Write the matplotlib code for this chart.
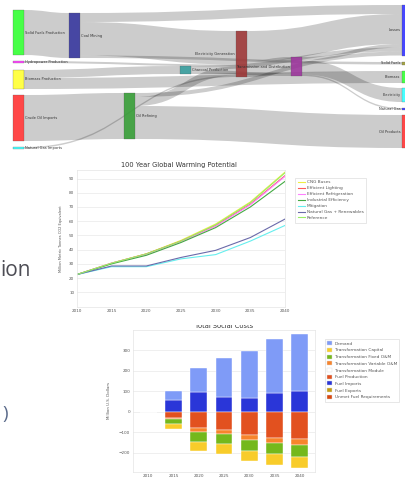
import matplotlib
matplotlib.use("Agg")
import matplotlib.pyplot as plt
from matplotlib.path import Path
from matplotlib.patches import PathPatch, Rectangle, Patch
from matplotlib.lines import Line2D

W, H = 406, 479

# ---------------- Sankey data ----------------
sankey_nodes = ["Solid Fuels Production", "Hydropower Production", "Biomass Production",
                "Crude Oil Imports", "Natural Gas Imports", "Coal Mining", "Oil Refining",
                "Charcoal Production", "Electricity Generation", "Transmission and Distribution",
                "Losses", "Solid Fuels", "Biomass", "Electricity", "Natural Gas", "Oil Products"]
link_source = ["Solid Fuels Production", "Hydropower Production", "Biomass Production",
               "Biomass Production", "Crude Oil Imports", "Natural Gas Imports",
               "Coal Mining", "Coal Mining", "Coal Mining",
               "Oil Refining", "Oil Refining", "Oil Refining",
               "Charcoal Production", "Charcoal Production", "Charcoal Production",
               "Electricity Generation", "Electricity Generation",
               "Transmission and Distribution", "Transmission and Distribution",
               "Transmission and Distribution"]
link_target = ["Coal Mining", "Electricity Generation", "Charcoal Production",
               "Biomass", "Oil Refining", "Electricity Generation",
               "Losses", "Electricity Generation", "Solid Fuels",
               "Losses", "Electricity Generation", "Oil Products",
               "Losses", "Transmission and Distribution", "Biomass",
               "Losses", "Transmission and Distribution",
               "Losses", "Electricity", "Natural Gas"]
link_value = [45, 2, 8, 11, 46, 1.5,
              9, 33.5, 2.5,
              4, 9, 33,
              4, 3, 1,
              30, 16,
              3.5, 14, 1.5]
node_colors = ["#33ff33", "#ff33ff", "#ffff33", "#ff3333", "#33ffff", "#333399", "#339933",
               "#339999", "#993333", "#993399", "#3333ff", "#999933", "#33ff33", "#33ffff",
               "#3333ff", "#ff3333"]

# ---------------- Line chart data ----------------
gwp_years = [2010, 2015, 2020, 2025, 2030, 2035, 2040]
gwp_cng_buses = [22.5, 30.5, 37.0, 46.5, 58.0, 73.5, 94.5]
gwp_eff_lighting = [22.5, 30.5, 37.0, 46.0, 57.0, 72.0, 92.0]
gwp_eff_refrig = [22.5, 30.5, 36.5, 45.5, 56.5, 71.5, 91.5]
gwp_industrial = [22.5, 30.0, 36.0, 45.0, 55.5, 70.0, 88.0]
gwp_mitigation = [22.5, 28.0, 28.0, 33.5, 36.5, 46.0, 57.0]
gwp_ng_renew = [22.5, 28.5, 28.5, 34.5, 39.5, 48.5, 61.5]
gwp_reference = [22.5, 30.5, 37.0, 46.0, 57.5, 73.0, 94.0]
gwp_labels = ["CNG Buses", "Efficient Lighting", "Efficient Refrigeration",
              "Industrial Efficiency", "Mitigation", "Natural Gas + Renewables", "Reference"]
gwp_colors = ["#eeee44", "#ff5a5a", "#ff80ff", "#44aa44", "#66eeee", "#6a6aaa", "#99ee66"]
gwp_yticks = [10, 20, 30, 40, 50, 60, 70, 80, 90]

# ---------------- Bar chart data ----------------
cost_years = ["2010", "2015", "2020", "2025", "2030", "2035", "2040"]
cost_fuel_imports = [0, 55, 95, 73, 65, 93, 101]
cost_demand = [0, 45, 116, 187, 231, 262, 278]
cost_fuel_production = [0, -32, -78, -89, -114, -127, -135]
cost_var_om = [0, -6, -19, -21, -26, -24, -27]
cost_fixed_om = [0, -22, -49, -49, -52, -57, -57]
cost_capital = [0, -23, -45, -47, -47, -52, -57]
cost_yticks = [-200, -100, 0, 100, 200, 300]
cost_labels = ["Demand", "Transformation Capital", "Transformation Fixed O&M",
               "Transformation Variable O&M", "Transformation Module", "Fuel Production",
               "Fuel Imports", "Fuel Exports", "Unmet Fuel Requirements"]
cost_colors = ["#7f9bf7", "#f8cc2a", "#74b81c", "#f7842c", "#ffffff", "#e2511f",
               "#2a36d8", "#c49c12", "#d9480f"]

fig = plt.figure(figsize=(W / 100, H / 100), dpi=100)
fig.patch.set_facecolor("white")


def fax(l, t, r, b):
    return fig.add_axes([l / W, 1 - b / H, (r - l) / W, (b - t) / H])


# ---------------- Sankey ----------------
node_left = {"Solid Fuels Production": 13, "Hydropower Production": 13, "Biomass Production": 13,
             "Crude Oil Imports": 13, "Natural Gas Imports": 13, "Coal Mining": 69,
             "Oil Refining": 124, "Charcoal Production": 180, "Electricity Generation": 236,
             "Transmission and Distribution": 291, "Losses": 402, "Solid Fuels": 402,
             "Biomass": 402, "Electricity": 402, "Natural Gas": 402, "Oil Products": 402}
node_top = {"Solid Fuels Production": 10, "Hydropower Production": 61, "Biomass Production": 70,
            "Crude Oil Imports": 95, "Natural Gas Imports": 147, "Coal Mining": 13,
            "Oil Refining": 93, "Charcoal Production": 66, "Electricity Generation": 31,
            "Transmission and Distribution": 57, "Losses": 5, "Solid Fuels": 62,
            "Biomass": 71, "Electricity": 88, "Natural Gas": 108, "Oil Products": 115}
NW = 11

sax = fax(0, 0, W, 155)
sax.set_xlim(0, W)
sax.set_ylim(155, 0)
sax.axis("off")

n_in = {n: 0.0 for n in sankey_nodes}
n_out = {n: 0.0 for n in sankey_nodes}
for s, t, v in zip(link_source, link_target, link_value):
    n_out[s] += v
    n_in[t] += v
n_val = {n: max(n_in[n], n_out[n]) for n in sankey_nodes}

links = list(zip(link_source, link_target, link_value))
out_off = {}
in_off = {}
for n in sankey_nodes:
    y = node_top[n]
    for i in sorted([i for i, l in enumerate(links) if l[0] == n], key=lambda i: node_top[links[i][1]]):
        out_off[i] = y
        y += links[i][2]
    y = node_top[n]
    for i in sorted([i for i, l in enumerate(links) if l[1] == n], key=lambda i: node_top[links[i][0]]):
        in_off[i] = y
        y += links[i][2]

for i, (s, t, v) in enumerate(links):
    x0 = node_left[s] + NW
    x1 = node_left[t]
    y0a, y0b = out_off[i], out_off[i] + v
    y1a, y1b = in_off[i], in_off[i] + v
    xm = (x0 + x1) / 2
    verts = [(x0, y0a), (xm, y0a), (xm, y1a), (x1, y1a), (x1, y1b), (xm, y1b), (xm, y0b), (x0, y0b), (x0, y0a)]
    codes = [Path.MOVETO, Path.CURVE4, Path.CURVE4, Path.CURVE4, Path.LINETO,
             Path.CURVE4, Path.CURVE4, Path.CURVE4, Path.CLOSEPOLY]
    sax.add_patch(PathPatch(Path(verts, codes), facecolor=(0, 0, 0, 0.2), edgecolor="none", lw=0))

for n, c in zip(sankey_nodes, node_colors):
    h = max(n_val[n], 1.2)
    sax.add_patch(Rectangle((node_left[n], node_top[n]), NW, h, facecolor=c, edgecolor="#555555",
                            lw=0.2, alpha=0.9))
    cy = node_top[n] + h / 2
    if node_left[n] + NW / 2 < W / 2:
        sax.text(node_left[n] + NW + 1, cy, n, fontsize=2.6, color="#333333", va="center", ha="left")
    else:
        sax.text(node_left[n] - 1.5, cy, n, fontsize=2.6, color="#333333", va="center", ha="right")

# ---------------- Line chart ----------------
lax = fax(77, 170, 285, 306.5)
gwp_series = [gwp_cng_buses, gwp_eff_lighting, gwp_eff_refrig, gwp_industrial,
              gwp_mitigation, gwp_ng_renew, gwp_reference]
for vals, lab, col in zip(gwp_series, gwp_labels, gwp_colors):
    lax.plot(gwp_years, vals, color=col, lw=0.8, label=lab)
lax.set_xlim(2010, 2040)
lax.set_ylim(0, 96)
lax.set_yticks(gwp_yticks)
lax.set_xticks(gwp_years)
lax.grid(axis="y", color="#ececec", lw=0.6)
lax.set_axisbelow(True)
for sp in lax.spines.values():
    sp.set_color("#e4e4e4")
    sp.set_linewidth(0.5)
lax.tick_params(length=0, labelsize=3, colors="#555555", pad=2)
lax.set_ylabel("Million Metric Tonnes CO2 Equivalent", fontsize=2.6, color="#555555", labelpad=4)
fig.text(179 / W, 1 - 165 / H, "100 Year Global Warming Potential", fontsize=4.8, color="#333333",
         ha="center", va="center")
handles = [Line2D([], [], color=c, lw=0.8) for c in gwp_colors]
fig.legend(handles, gwp_labels, loc="upper left", bbox_to_anchor=(293 / W, 1 - 175.5 / H),
           fontsize=3.1, frameon=True, fancybox=False, edgecolor="#dddddd", framealpha=1,
           labelspacing=0.45, handlelength=1.6, handletextpad=0.5, borderpad=0.6,
           labelcolor="#555555").get_frame().set_linewidth(0.5)

# ---------------- Bar chart ----------------
bax = fax(133, 330, 315, 471.5)
xs = range(len(cost_years))
bw = 0.66
ek = dict(edgecolor="white", linewidth=0.3)
bax.bar(xs, cost_fuel_imports, bw, color=cost_colors[6], **ek)
bax.bar(xs, cost_demand, bw, bottom=cost_fuel_imports, color=cost_colors[0], **ek)
b1 = [0] * len(cost_years)
for vals, col in [(cost_fuel_production, cost_colors[5]), (cost_var_om, cost_colors[3]),
                  (cost_fixed_om, cost_colors[2]), (cost_capital, cost_colors[1])]:
    bax.bar(xs, vals, bw, bottom=b1, color=col, **ek)
    b1 = [a + b for a, b in zip(b1, vals)]
bax.set_xlim(-0.6, 6.6)
bax.set_ylim(-292, 398)
bax.set_xticks(list(xs))
bax.set_xticklabels(cost_years)
bax.set_yticks(cost_yticks)
bax.grid(axis="y", color="#ececec", lw=0.6)
bax.set_axisbelow(True)
for sp in bax.spines.values():
    sp.set_color("#e4e4e4")
    sp.set_linewidth(0.5)
bax.tick_params(length=0, labelsize=3, colors="#555555", pad=2)
bax.set_ylabel("Million U.S. Dollars", fontsize=2.8, color="#555555", labelpad=6)
fig.text(224 / W, 1 - 326 / H, "Total Social Costs", fontsize=4.8, color="#333333",
         ha="center", va="center")
fig.patches.append(Rectangle((180 / W, 1 - 324.5 / H), 90 / W, 6 / H, transform=fig.transFigure,
                             facecolor="white", edgecolor="none", zorder=10))
chandles = [Patch(facecolor=c, edgecolor="#dddddd", lw=0.3) for c in cost_colors]
fig.legend(chandles, cost_labels, loc="upper left", bbox_to_anchor=(322.5 / W, 1 - 336.5 / H),
           fontsize=3.1, frameon=True, fancybox=False, edgecolor="#dddddd", framealpha=1,
           labelspacing=0.5, handlelength=1.1, handleheight=1.1, handletextpad=0.6, borderpad=0.6,
           labelcolor="#555555").get_frame().set_linewidth(0.5)

# ---------------- Cut-off slide text ----------------
fig.text(0.5 / W, 1 - 276 / H, "ion", fontsize=15, family="Open Sans", color="#4d4d55",
         ha="left", va="baseline")
fig.text(2.5 / W, 1 - 419 / H, ")", fontsize=13.5, family="Open Sans", color="#5a6a8a",
         ha="left", va="baseline")

fig.savefig("out.png", dpi=100, facecolor="white")
